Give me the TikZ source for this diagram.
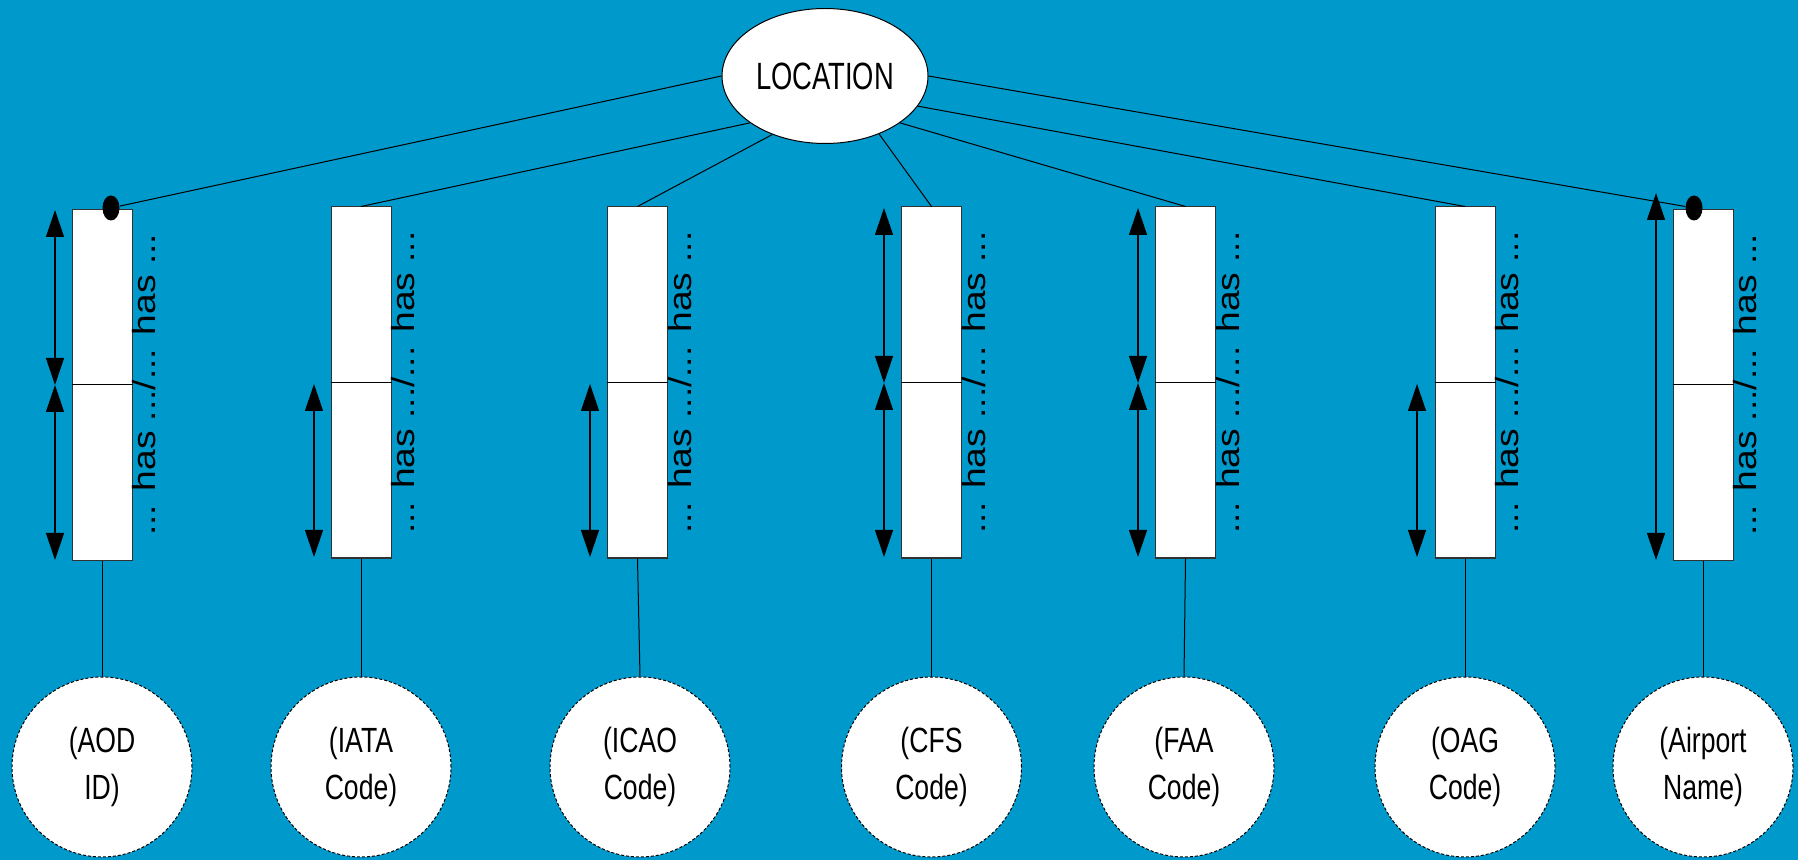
\documentclass[tikz,border=0pt]{standalone}
\usepackage{fontspec}
\setmainfont{Liberation Sans}
\newfontfamily\condfont[FakeStretch=0.72]{Liberation Sans}
\newfontfamily\leaffont[FakeStretch=0.76]{Liberation Sans}
\newfontfamily\widefont[FakeStretch=1.16]{Liberation Sans}
\usetikzlibrary{shapes.geometric,arrows.meta}
\definecolor{bg}{RGB}{0,153,204}
\definecolor{edge}{RGB}{50,50,50}
\tikzset{
  rootnode/.style={ellipse,draw=black,line width=0.5pt,fill=white,inner sep=0pt,
    minimum width=103pt,minimum height=67.5pt,font=\condfont\fontsize{19}{22}\selectfont},
  colbox/.style={rectangle,draw=edge,line width=0.5pt,fill=white,inner sep=0pt,
    minimum width=30pt,minimum height=175.5pt},
  dotnode/.style={ellipse,fill=black,inner sep=0pt,minimum width=8.5pt,minimum height=12.5pt},
  leaf/.style={circle,draw=black,dashed,dash pattern=on 1.5pt off 1pt,line width=0.5pt,fill=white,
    inner sep=0pt,minimum size=90pt,align=center,font=\leaffont\fontsize{17.5}{23.5}\selectfont},
  hastext/.style={rotate=90,anchor=base,inner sep=0pt,font=\widefont\fontsize{16}{19}\selectfont},
  link/.style={draw=black,line width=0.5pt},
  dimarr/.style={draw=black,line width=0.6pt,{Triangle[width=9pt,length=13.5pt]}-{Triangle[width=9pt,length=13.5pt]}}
}
\begin{document}
\begin{tikzpicture}[x=0.5pt,y=-0.5pt]
\path[fill=bg,use as bounding box] (0,0) rectangle (1798,860);

\node[rootnode] (loc) at (825,76) {LOCATION};

% boxes
\node[colbox] (b1) at (102,385) {};
\node[colbox] (b2) at (361,382.5) {};
\node[colbox] (b3) at (637.5,382.5) {};
\node[colbox] (b4) at (931.5,382.5) {};
\node[colbox] (b5) at (1185.5,382.5) {};
\node[colbox] (b6) at (1465,382.5) {};
\node[colbox] (b7) at (1703,385) {};
\foreach \b in {b1,b2,b3,b4,b5,b6,b7}{\draw[link] (\b.west) -- (\b.east);}

% dots
\node[dotnode] (d1) at (111,208) {};
\node[dotnode] (d7) at (1694,208) {};

% texts
\foreach \b in {b1,b2,b3,b4,b5,b6,b7}{
  \node[hastext] (t\b) at ([xshift=11.5pt]\b.east) {... has .../... has ...};
}

% circles
\node[leaf] (c1) at (102,767) {(AOD\\ID)};
\node[leaf] (c2) at (361,767) {(IATA\\Code)};
\node[leaf] (c3) at (640,767) {(ICAO\\Code)};
\node[leaf] (c4) at (931.5,767) {(CFS\\Code)};
\node[leaf] (c5) at (1184,767) {(FAA\\Code)};
\node[leaf] (c6) at (1465,767) {(OAG\\Code)};
\node[leaf] (c7) at (1703,767) {(Airport\\Name)};

% links from LOCATION
\draw[link] (loc.west) -- (d1);
\draw[link] (loc.212.6) -- (b2.north);
\draw[link] (loc.228.6) -- (b3.north);
\draw[link] (loc.313) -- (b4.north);
\draw[link] (loc.328.6) -- (b5.north);
\draw[link] (loc.342.3) -- (b6.north);
\draw[link] (loc.east) -- (d7);

% links to circles
\foreach \i in {1,...,7}{\draw[link] (b\i.south) -- (c\i.north);}

% dimension arrows
\coordinate (a1t) at (55,210);  \coordinate (a1m) at (55,385);  \coordinate (a1b) at (55,560);
\coordinate (a2m) at (314,384); \coordinate (a2b) at (314,557);
\coordinate (a3m) at (590,384); \coordinate (a3b) at (590,557);
\coordinate (a4t) at (884,208); \coordinate (a4m) at (884,383); \coordinate (a4b) at (884,557);
\coordinate (a5t) at (1138,208); \coordinate (a5m) at (1138,383); \coordinate (a5b) at (1138,557);
\coordinate (a6m) at (1417,384); \coordinate (a6b) at (1417,557);
\coordinate (a7t) at (1656,193); \coordinate (a7b) at (1656,560);
\draw[dimarr] (a1t) -- (a1m);
\draw[dimarr] (a1m) -- (a1b);
\draw[dimarr] (a2m) -- (a2b);
\draw[dimarr] (a3m) -- (a3b);
\draw[dimarr] (a4t) -- (a4m);
\draw[dimarr] (a4m) -- (a4b);
\draw[dimarr] (a5t) -- (a5m);
\draw[dimarr] (a5m) -- (a5b);
\draw[dimarr] (a6m) -- (a6b);
\draw[dimarr] (a7t) -- (a7b);
\end{tikzpicture}
\end{document}
